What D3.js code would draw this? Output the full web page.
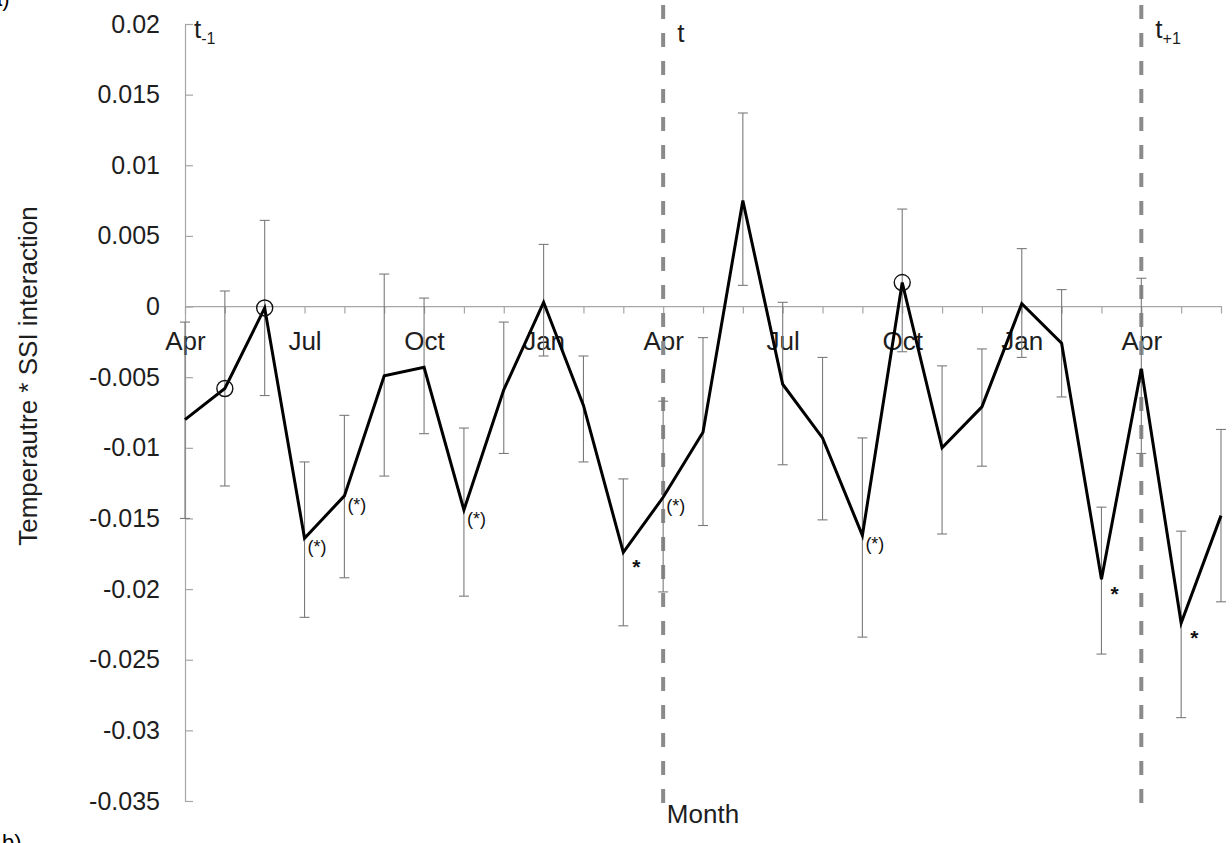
<!DOCTYPE html>
<html>
<head>
<meta charset="utf-8">
<script src="https://cdn.jsdelivr.net/npm/d3@7"></script>
<style>
  html, body { margin: 0; padding: 0; background: #fff; }
  svg { display: block; }
  text { font-family: "Liberation Sans", Arial, sans-serif; }
</style>
</head>
<body>
<svg id="chart" width="1232" height="843"></svg>
<script>
// ---------------- data ----------------
const months = ["Apr","May","Jun","Jul","Aug","Sep","Oct","Nov","Dec","Jan","Feb","Mar",
                "Apr","May","Jun","Jul","Aug","Sep","Oct","Nov","Dec","Jan","Feb","Mar",
                "Apr","May","Jun"];
const values = [-0.0080, -0.0058, -0.0001, -0.0164, -0.0134, -0.0049, -0.0043, -0.0144, -0.0059,
                 0.0003, -0.0070, -0.0174, -0.0135, -0.0089,  0.0075, -0.0055, -0.0093, -0.0162,
                 0.0017, -0.0100, -0.0071,  0.0002, -0.0026, -0.0193, -0.0044, -0.0224, -0.0148];
const errUpper = [-0.0011, 0.0011, 0.0061, -0.0110, -0.0077, 0.0023, 0.0006, -0.0086, -0.0011,
                   0.0044, -0.0035, -0.0122, -0.0067, -0.0022, 0.0137, 0.0003, -0.0036, -0.0093,
                   0.0069, -0.0042, -0.0030, 0.0041, 0.0012, -0.0142, 0.0020, -0.0159, -0.0087];
const errLower = [-0.0150, -0.0127, -0.0063, -0.0220, -0.0192, -0.0120, -0.0090, -0.0205, -0.0104,
                  -0.0035, -0.0110, -0.0226, -0.0202, -0.0155, 0.0015, -0.0112, -0.0151, -0.0234,
                  -0.0032, -0.0161, -0.0113, -0.0036, -0.0064, -0.0246, -0.0104, -0.0291, -0.0209];
// significance markers: "o" = open circle, "(*)" and "*" = text
const marks = ["", "o", "o", "(*)", "(*)", "", "", "(*)", "", "", "", "*", "(*)", "", "", "",
               "", "(*)", "o", "", "", "", "", "*", "", "*", ""];
const yTicks = [0.02, 0.015, 0.01, 0.005, 0, -0.005, -0.01, -0.015, -0.02, -0.025, -0.03, -0.035];
const yTickLabels = ["0.02", "0.015", "0.01", "0.005", "0", "-0.005", "-0.01", "-0.015", "-0.02",
                     "-0.025", "-0.03", "-0.035"];
const periodIdx = [0, 12, 24];
const periodBase = ["t", "t", "t"];
const periodSub = ["-1", "", "+1"];
const yTitle = "Temperautre * SSI interaction";
const xTitle = "Month";

// ---------------- drawing ----------------
const svg = d3.select("#chart");
const idx = d3.range(months.length);
const x = d3.scalePoint().domain(idx).range([185, 1221]);
const y = d3.scaleLinear().domain([-0.035, 0.02]).range([801, 24]);

const axisColor = "#a6a6a6";
const textColor = "#1e1e1e";
const FF = "Liberation Sans, Arial, sans-serif";

// y axis
const gy = svg.append("g").attr("transform", `translate(${x(0)},0)`)
  .call(d3.axisLeft(y).tickValues(yTicks).tickFormat((d, i) => yTickLabels[i])
        .tickSizeInner(-8).tickSizeOuter(0).tickPadding(25));
gy.select(".domain").attr("stroke", axisColor).attr("stroke-width", 1.2);
gy.selectAll(".tick line").attr("stroke", axisColor).attr("stroke-width", 1.2);
gy.selectAll(".tick text").attr("font-size", 25).attr("fill", textColor).attr("font-family", FF);

// x axis at zero
const gx = svg.append("g").attr("transform", `translate(0,${y(0)})`)
  .call(d3.axisBottom(x).tickFormat(i => (i % 3 === 0 ? months[i] : ""))
        .tickSizeInner(7).tickSizeOuter(0).tickPadding(8));
gx.select(".domain").attr("stroke", axisColor).attr("stroke-width", 1.2)
  .attr("d", `M${x(0)},0H1222`);
gx.selectAll(".tick line").attr("stroke", axisColor).attr("stroke-width", 1.2);
gx.selectAll(".tick text").attr("font-size", 26).attr("fill", textColor).attr("font-family", FF)
  .attr("y", 43).attr("dy", 0);

// dashed period lines
svg.append("g").selectAll("line").data(periodIdx.filter(i => i > 0)).join("line")
  .attr("x1", d => x(d)).attr("x2", d => x(d))
  .attr("y1", 5).attr("y2", 805)
  .attr("stroke", "#8a8a8a").attr("stroke-width", 4)
  .attr("stroke-dasharray", "14,14");

// error bars
const eb = svg.append("g").attr("stroke", "#7a7a7a").attr("stroke-width", 1.1);
eb.selectAll("line.v").data(idx).join("line").attr("class", "v")
  .attr("x1", i => x(i)).attr("x2", i => x(i))
  .attr("y1", i => y(errUpper[i])).attr("y2", i => y(errLower[i]));
eb.selectAll("line.cu").data(idx).join("line").attr("class", "cu")
  .attr("x1", i => x(i) - 5).attr("x2", i => x(i) + 5)
  .attr("y1", i => y(errUpper[i])).attr("y2", i => y(errUpper[i]));
eb.selectAll("line.cl").data(idx).join("line").attr("class", "cl")
  .attr("x1", i => x(i) - 5).attr("x2", i => x(i) + 5)
  .attr("y1", i => y(errLower[i])).attr("y2", i => y(errLower[i]));

// main line
svg.append("path").datum(idx)
  .attr("fill", "none").attr("stroke", "#000").attr("stroke-width", 3)
  .attr("stroke-linejoin", "miter")
  .attr("d", d3.line().x(i => x(i)).y(i => y(values[i])));

// circles
svg.append("g").selectAll("circle").data(idx.filter(i => marks[i] === "o")).join("circle")
  .attr("cx", i => x(i)).attr("cy", i => y(values[i])).attr("r", 8)
  .attr("fill", "none").attr("stroke", "#111").attr("stroke-width", 1.4);

// (*) labels
svg.append("g").selectAll("text").data(idx.filter(i => marks[i] === "(*)")).join("text")
  .attr("x", i => x(i) + 3).attr("y", i => y(values[i]) + 15)
  .attr("font-size", 18).attr("fill", "#111").text(i => marks[i]);
// * labels
svg.append("g").selectAll("text").data(idx.filter(i => marks[i] === "*")).join("text")
  .attr("x", i => x(i) + 9).attr("y", i => y(values[i]) + 22)
  .attr("font-size", 21).attr("font-weight", "bold").attr("fill", "#111").text(i => marks[i]);

// period labels
const pl = svg.append("g").selectAll("text").data(d3.range(periodIdx.length)).join("text")
  .attr("x", k => x(periodIdx[k]) + (k === 0 ? 9 : 14))
  .attr("y", k => (k === 1 ? 42 : 38))
  .attr("font-size", 26).attr("fill", textColor);
pl.append("tspan").text(k => periodBase[k]);
pl.append("tspan").attr("dy", 6).attr("font-size", 16).text(k => periodSub[k]);

// axis titles
svg.append("text").attr("x", 703).attr("y", 823).attr("text-anchor", "middle")
  .attr("font-size", 26).attr("fill", textColor).text(xTitle);
svg.append("text").attr("transform", "translate(37,376) rotate(-90)")
  .attr("text-anchor", "middle").attr("font-size", 26).attr("fill", textColor).text(yTitle);

// panel fragments (cut by the image edges, as in the source figure)
svg.append("text").attr("x", -10).attr("y", 6).attr("font-family", "Liberation Serif, serif")
  .attr("font-size", 22).attr("fill", "#000").text("a)");
svg.append("text").attr("x", 2).attr("y", 850).attr("font-family", "Liberation Serif, serif")
  .attr("font-size", 22).attr("fill", "#000").text("b)");
</script>
</body>
</html>
